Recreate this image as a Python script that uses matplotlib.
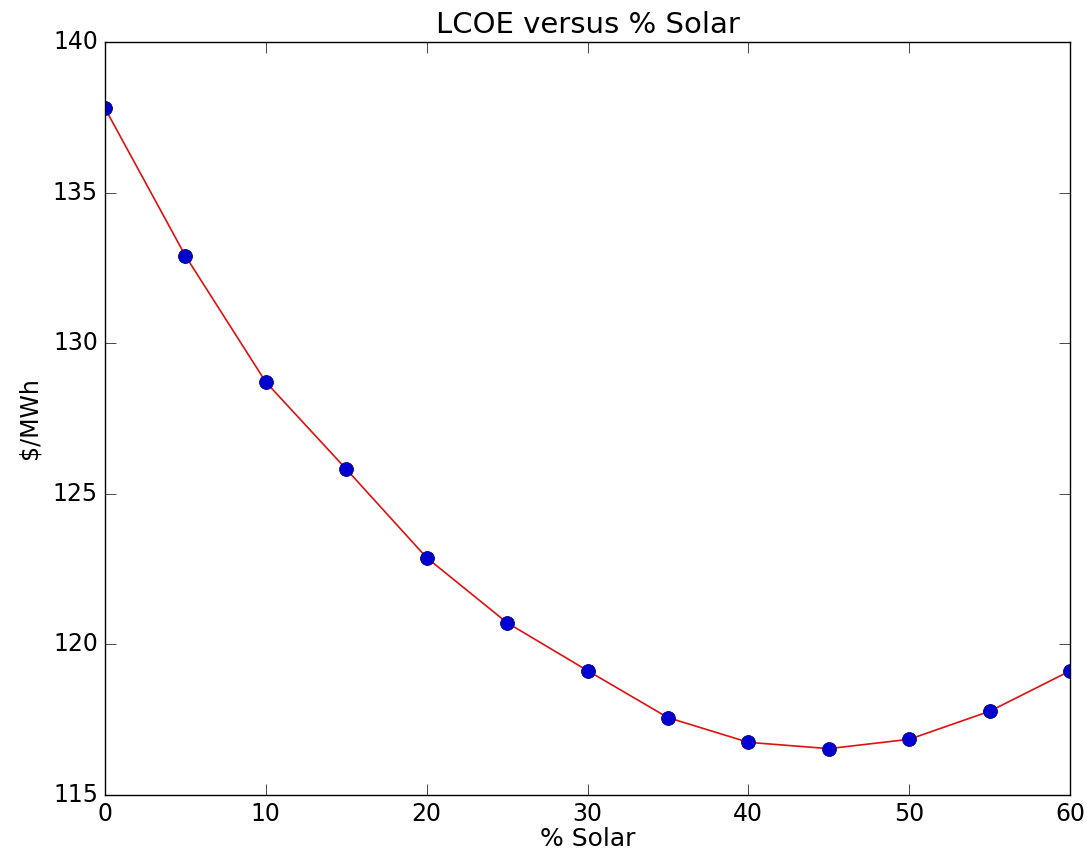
import matplotlib
matplotlib.use("Agg")
import matplotlib.pyplot as plt

# LCOE
pct_solar = [0, 5, 10, 15, 20, 25, 30, 35, 40, 45, 50, 55, 60]
lcoe = [137.80, 132.90, 128.71, 125.82, 122.88, 120.72, 119.13,
        117.57, 116.75, 116.54, 116.85, 117.78, 119.12]

plt.style.use("classic")
plt.rcParams["font.family"] = "DejaVu Sans"

fig = plt.figure(figsize=(10.87, 8.58), dpi=100, facecolor="white")
ax = fig.add_axes([0.0966, 0.0734, 0.8878, 0.8776])

ax.plot(pct_solar, lcoe, color="#e01010", linewidth=1.2)
ax.plot(pct_solar, lcoe, "o", color="#0000d0", markeredgecolor="#000080",
        markersize=10, markeredgewidth=0.6)

ax.set_xlim(0, 60)
ax.set_ylim(115, 140)
ax.set_xticks([0, 10, 20, 30, 40, 50, 60])
ax.set_yticks([115, 120, 125, 130, 135, 140])
ax.tick_params(labelsize=17, length=8, pad=5)

ax.set_title("LCOE versus % Solar", fontsize=21, y=1.003)
ax.set_xlabel("% Solar", fontsize=18, labelpad=1)
ax.set_ylabel("$/MWh", fontsize=17, labelpad=8)

fig.savefig("out.png", dpi=100, facecolor="white")
